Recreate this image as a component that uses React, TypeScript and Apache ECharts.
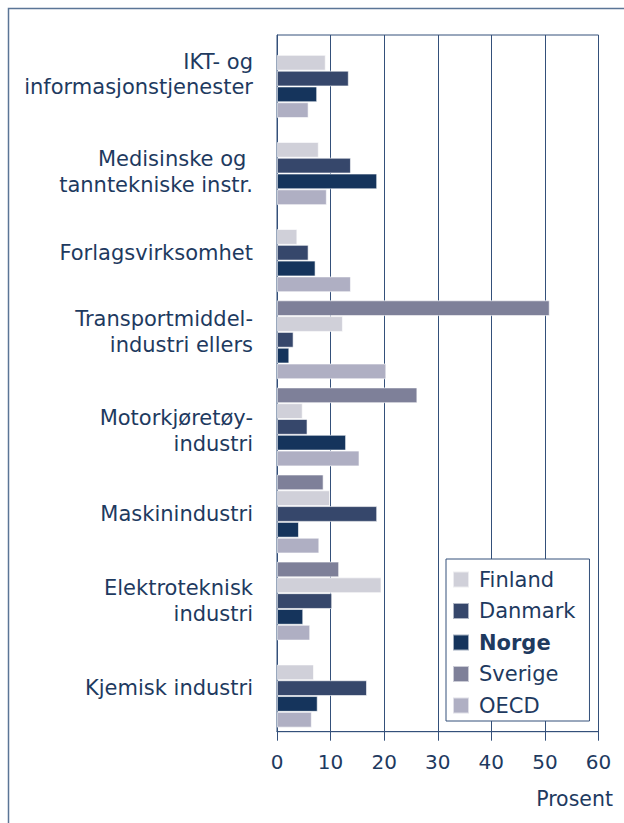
import React, { useEffect, useRef } from "react";
import * as echarts from "echarts";

const categories = [
  "IKT- og\ninformasjonstjenester",
  "Medisinske og \ntanntekniske instr.",
  "Forlagsvirksomhet",
  "Transportmiddel-\nindustri ellers",
  "Motorkjøretøy-\nindustri",
  "Maskinindustri",
  "Elektroteknisk\nindustri",
  "Kjemisk industri",
];

const sverige = [null, null, null, 50.9, 26.2, 8.7, 11.6, null];
const finland = [9.1, 7.8, 3.8, 12.3, 4.8, 9.9, 19.5, 6.9];
const danmark = [13.4, 13.8, 5.9, 3.1, 5.7, 18.7, 10.3, 16.8];
const norge = [7.5, 18.7, 7.2, 2.3, 12.9, 4.1, 4.9, 7.6];
const oecd = [5.9, 9.3, 13.8, 20.4, 15.4, 7.9, 6.2, 6.5];

const legendOrder = ["Finland", "Danmark", "Norge", "Sverige", "OECD"];
const xTicks = { min: 0, max: 60, interval: 10 };

const TEXT = "#1e3a5f";
const LINE = "#34507a";
const FONT = "DejaVu Sans";

export default function App() {
  const ref = useRef<HTMLDivElement>(null);
  useEffect(() => {
    if (!ref.current) return;
    const chart = echarts.init(ref.current, undefined, { renderer: "svg" });
    const mk = (name: string, data: (number | null)[], color: string) => ({
      name,
      type: "bar",
      data: data.map((v) => (v === null ? "-" : v)),
      barGap: "0%",
      barCategoryGap: "9.3%",
      itemStyle: { color, borderColor: "rgba(255,255,255,0.6)", borderWidth: 1 },
    });

    // label vertical nudges (px, positive = up) to match the original layout
    const labelShift = [4, -6.5, 0, 8, -4, 0, 0, 0];
    const LH = 25.5;
    const rich: Record<string, any> = {};
    categories.forEach((_, k) => {
      const s = labelShift[k];
      const base = { fontSize: 21, fontFamily: FONT, color: TEXT, align: "right" };
      rich[`a${k}`] = { ...base, lineHeight: LH - 2 * s };
      rich[`b${k}`] = { ...base, lineHeight: LH + 2 * s };
      rich[`s${k}`] = { ...base, lineHeight: LH };
    });
    const catFormatter = (value: string, idx: number) => {
      const k = categories.indexOf(value);
      const lines = value.split("\n");
      if (lines.length === 1) return `{s${k}|${value}}`;
      return `{a${k}|${lines[0]}}\n{b${k}|${lines[1]}}`;
    };

    chart.setOption({
      animation: false,
      backgroundColor: "#ffffff",
      grid: {
        left: 277,
        right: 25.5,
        top: 35,
        bottom: 91.3,
        show: true,
        borderColor: LINE,
        borderWidth: 1,
      },
      legend: {
        orient: "vertical",
        left: 446,
        top: 559,
        data: legendOrder,
        icon: "rect",
        itemWidth: 16,
        itemHeight: 16,
        itemGap: 10.5,
        padding: [10, 14, 5, 6],
        borderColor: LINE,
        borderWidth: 1,
        backgroundColor: "#ffffff",
        formatter: (n: string) => (n === "Norge" ? `{b|${n}}` : `{r|${n}}`),
        textStyle: {
          color: TEXT,
          fontSize: 21,
          fontFamily: FONT,
          lineHeight: 21,
          rich: {
            b: { fontWeight: "bold", fontSize: 21, fontFamily: FONT, color: TEXT, lineHeight: 21, padding: [0, 0, 0, 5] },
            r: { fontSize: 21, fontFamily: FONT, color: TEXT, lineHeight: 21, padding: [0, 0, 0, 5] },
          },
        },
      },
      xAxis: {
        type: "value",
        min: xTicks.min,
        max: xTicks.max,
        interval: xTicks.interval,
        axisLine: { show: true, lineStyle: { color: LINE, width: 1 } },
        axisTick: { show: true, length: 9, lineStyle: { color: LINE } },
        splitLine: { show: true, lineStyle: { color: LINE, width: 1 } },
        axisLabel: { color: TEXT, fontSize: 20, fontFamily: FONT, margin: 20 },
      },
      yAxis: {
        type: "category",
        inverse: true,
        data: categories,
        axisLine: { show: true, lineStyle: { color: LINE, width: 1 } },
        axisTick: { show: false },
        axisLabel: {
          color: TEXT,
          fontSize: 21,
          lineHeight: LH,
          fontFamily: FONT,
          margin: 24,
          align: "right",
          formatter: catFormatter,
          rich,
        },
      },
      graphic: [
        {
          type: "rect",
          shape: { x: 8.5, y: 8.5, width: 700, height: 900 },
          style: { fill: "none", stroke: "#5b7596", lineWidth: 1.5 },
          silent: true,
        },
        {
          type: "text",
          x: 613,
          y: 799,
          style: {
            text: "Prosent",
            fill: TEXT,
            fontSize: 20.5,
            fontFamily: FONT,
            align: "right",
            verticalAlign: "middle",
          },
        },
      ],
      series: [
        mk("Sverige", sverige, "#7e8099"),
        mk("Finland", finland, "#d0d0d9"),
        mk("Danmark", danmark, "#36476b"),
        mk("Norge", norge, "#15345c"),
        mk("OECD", oecd, "#afafc3"),
      ],
    });
    return () => chart.dispose();
  }, []);
  return (
    <div
      ref={ref}
      style={{ position: "fixed", left: 0, top: 0, width: 624, height: 823 }}
    />
  );
}
